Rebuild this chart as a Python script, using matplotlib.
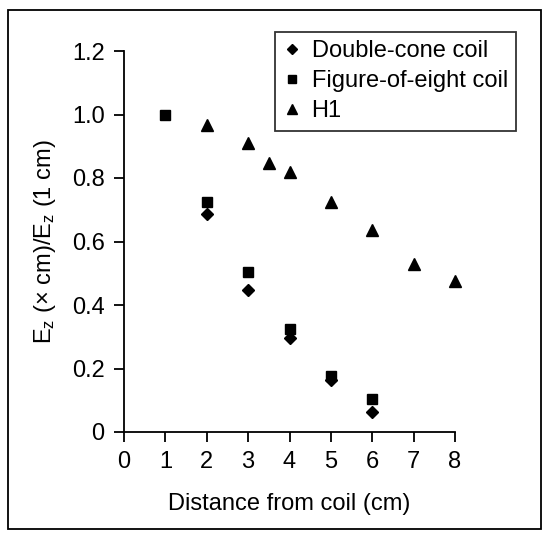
import matplotlib
matplotlib.use("Agg")
import matplotlib.pyplot as plt
from matplotlib.patches import Rectangle

plt.rcParams['font.family'] = ['Liberation Sans', 'DejaVu Sans']
plt.rcParams['mathtext.fontset'] = 'custom'
plt.rcParams['mathtext.rm'] = 'Liberation Sans'
plt.rcParams['mathtext.it'] = 'Liberation Sans'

# Data
dc_x = [2, 3, 4, 5, 6]
dc_y = [0.686, 0.446, 0.295, 0.164, 0.062]
fe_x = [1, 2, 3, 4, 5, 6]
fe_y = [1.0, 0.724, 0.505, 0.323, 0.176, 0.104]
h1_x = [2, 3, 3.5, 4, 5, 6, 7, 8]
h1_y = [0.967, 0.909, 0.846, 0.818, 0.724, 0.636, 0.529, 0.477]

xticks = [0, 1, 2, 3, 4, 5, 6, 7, 8]
yticks = [0, 0.2, 0.4, 0.6, 0.8, 1.0, 1.2]
ytick_labels = ['0', '0.2', '0.4', '0.6', '0.8', '1.0', '1.2']

FS = 17
W, H = 554, 541
fig = plt.figure(figsize=(W / 100, H / 100), dpi=100)
ax = fig.add_axes([124 / W, 1 - 432 / H, (455 - 124) / W, (432 - 51) / H])

ax.plot(dc_x, dc_y, linestyle='none', marker='D', ms=6.0, color='black',
        label='Double-cone coil', zorder=3, clip_on=False)
ax.plot(fe_x, fe_y, linestyle='none', marker='s', ms=6.5, color='black',
        label='Figure-of-eight coil', zorder=4, clip_on=False)
ax.plot(h1_x, h1_y, linestyle='none', marker='^', ms=9, color='black',
        label='H1', zorder=3, clip_on=False)

ax.set_xlim(0, 8)
ax.set_ylim(0, 1.2)
ax.set_xticks(xticks)
ax.set_yticks(yticks)
ax.set_yticklabels(ytick_labels)
for s in ['top', 'right']:
    ax.spines[s].set_visible(False)
for s in ['left', 'bottom']:
    ax.spines[s].set_linewidth(1.3)
ax.tick_params(direction='out', length=7, width=1.3, labelsize=FS)
ax.tick_params(axis='y', pad=7)
ax.tick_params(axis='x', pad=7)
ax.set_xlabel('Distance from coil (cm)', fontsize=FS, labelpad=14)
ax.set_ylabel(r'E$_\mathrm{z}$ (× cm)/E$_\mathrm{z}$ (1 cm)', fontsize=FS, labelpad=10)

leg = ax.legend(loc='upper left', bbox_to_anchor=((275 - 124) / (455 - 124), (432 - 32) / (432 - 51)),
                fontsize=FS, frameon=True, fancybox=False, edgecolor='black',
                handlelength=0.7, handletextpad=0.5, borderpad=0.35, labelspacing=0.34,
                borderaxespad=0, markerscale=0.85)
leg.get_frame().set_linewidth(1.3)

fig.patches.append(Rectangle((8 / W, 1 - 529 / H), (541 - 8) / W, (529 - 10) / H,
                             transform=fig.transFigure, fill=False, edgecolor='black',
                             linewidth=1.3))

fig.savefig('out.png', dpi=100)
